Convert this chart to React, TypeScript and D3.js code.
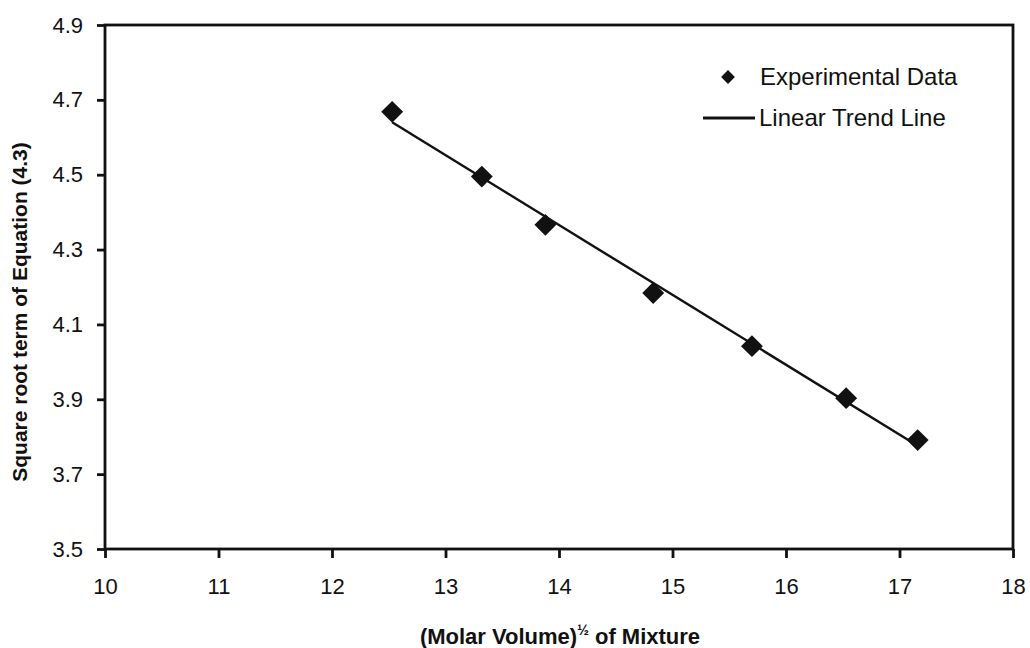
import React, { useEffect, useRef } from "react";
import * as d3 from "d3";

// values
const molarVolume = [12.53, 13.32, 13.88, 14.83, 15.7, 16.53, 17.16];
const sqrtTerm = [4.668, 4.495, 4.366, 4.184, 4.042, 3.903, 3.791];
const xTicks = [10, 11, 12, 13, 14, 15, 16, 17, 18];
const yTicks = [3.5, 3.7, 3.9, 4.1, 4.3, 4.5, 4.7, 4.9];

const W = 1030;
const H = 648;

const App: React.FC = () => {
	const svgRef = useRef<SVGSVGElement>(null);

	useEffect(() => {
		if (!svgRef.current) return;
		const svg = d3.select(svgRef.current);
		svg.selectAll("*").remove();

		const left = 105;
		const right = 1013;
		const top = 25;
		const bottom = 549;
		const ink = "#111";
		const font = "'Liberation Sans', Arial, sans-serif";

		const x = d3.scaleLinear().domain([10, 18]).range([left, right]);
		const y = d3.scaleLinear().domain([3.5, 4.9]).range([bottom, top]);

		svg.append("rect").attr("width", W).attr("height", H).attr("fill", "#fff");

		// x axis
		const xAxis = svg
			.append("g")
			.attr("transform", `translate(0,${bottom})`)
			.call(
				d3
					.axisBottom(x)
					.tickValues(xTicks)
					.tickSize(9)
					.tickSizeOuter(0)
					.tickFormat(d3.format("d"))
			);
		xAxis.select(".domain").remove();
		xAxis.selectAll("line").attr("stroke", ink).attr("stroke-width", 2.8);
		xAxis
			.selectAll("text")
			.attr("fill", ink)
			.attr("font-family", font)
			.attr("font-size", 22)
			.attr("y", 45)
			.attr("dy", 0);

		// y axis
		const yAxis = svg
			.append("g")
			.attr("transform", `translate(${left},0)`)
			.call(
				d3
					.axisLeft(y)
					.tickValues(yTicks)
					.tickSize(8)
					.tickSizeOuter(0)
					.tickFormat(d3.format(".1f"))
			);
		yAxis.select(".domain").remove();
		yAxis.selectAll("line").attr("stroke", ink).attr("stroke-width", 2.8);
		yAxis
			.selectAll("text")
			.attr("fill", ink)
			.attr("font-family", font)
			.attr("font-size", 22)
			.attr("x", -22);

		// plot frame
		svg
			.append("rect")
			.attr("x", left)
			.attr("y", top)
			.attr("width", right - left)
			.attr("height", bottom - top)
			.attr("fill", "none")
			.attr("stroke", ink)
			.attr("stroke-width", 2.8);

		// linear trend line (least squares)
		const n = molarVolume.length;
		const mx = d3.mean(molarVolume) || 0;
		const my = d3.mean(sqrtTerm) || 0;
		let sxy = 0;
		let sxx = 0;
		for (let i = 0; i < n; i++) {
			sxy += (molarVolume[i] - mx) * (sqrtTerm[i] - my);
			sxx += (molarVolume[i] - mx) ** 2;
		}
		const slope = sxy / sxx;
		const icpt = my - slope * mx;
		const x0 = d3.min(molarVolume) || 0;
		const x1 = d3.max(molarVolume) || 0;

		svg
			.append("path")
			.datum([x0, x1])
			.attr("fill", "none")
			.attr("stroke", ink)
			.attr("stroke-width", 2.4)
			.attr(
				"d",
				d3
					.line<number>()
					.x((d) => x(d))
					.y((d) => y(slope * d + icpt))
			);

		// experimental points
		const diamond = d3.symbol(d3.symbolSquare, 240);
		svg
			.append("g")
			.selectAll("path")
			.data(molarVolume)
			.join("path")
			.attr("d", diamond)
			.attr(
				"transform",
				(d, i) => `translate(${x(d)},${y(sqrtTerm[i])}) rotate(45)`
			)
			.attr("fill", ink);

		// legend
		const lg = svg.append("g").attr("font-family", font).attr("font-size", 24).attr("fill", ink);
		lg.append("path")
			.attr("d", d3.symbol(d3.symbolSquare, 95))
			.attr("transform", "translate(728,77) rotate(45)")
			.attr("fill", ink);
		lg.append("text").attr("x", 760).attr("y", 85).text("Experimental Data");
		lg.append("line")
			.attr("x1", 703)
			.attr("x2", 755)
			.attr("y1", 118)
			.attr("y2", 118)
			.attr("stroke", ink)
			.attr("stroke-width", 2.8);
		lg.append("text").attr("x", 759).attr("y", 126).text("Linear Trend Line");

		// axis titles
		const xt = svg
			.append("text")
			.attr("x", 560)
			.attr("y", 644)
			.attr("text-anchor", "middle")
			.attr("font-family", font)
			.attr("font-weight", "bold")
			.attr("font-size", 22)
			.attr("fill", ink);
		xt.append("tspan").text("(Molar Volume)");
		xt.append("tspan").attr("dy", -9).attr("font-size", 14).text("½");
		xt.append("tspan").attr("dy", 9).text(" of Mixture");

		svg
			.append("text")
			.attr("transform", `translate(27,${(top + bottom) / 2 + 25}) rotate(-90)`)
			.attr("text-anchor", "middle")
			.attr("font-family", font)
			.attr("font-weight", "bold")
			.attr("font-size", 21)
			.attr("fill", ink)
			.text("Square root term of Equation (4.3)");
	}, []);

	return (
		<svg
			ref={svgRef}
			width={W}
			height={H}
			style={{ position: "absolute", left: 0, top: 0 }}
		/>
	);
};

export default App;
